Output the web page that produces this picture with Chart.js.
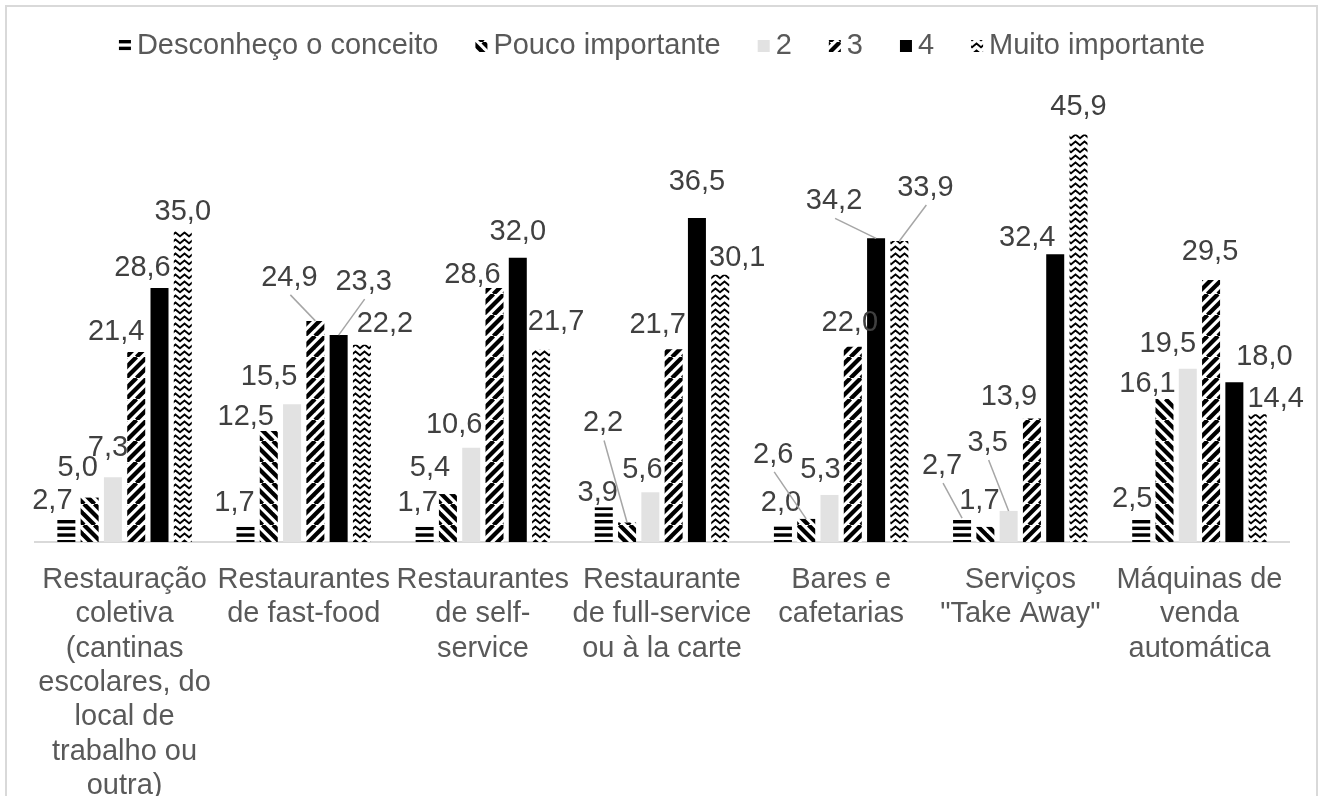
<!DOCTYPE html>
<html>
<head>
<meta charset="utf-8">
<script src="https://cdn.jsdelivr.net/npm/chart.js@4.4.0/dist/chart.umd.min.js"></script>
<style>
  html, body { margin: 0; padding: 0; background: #fff; }
  canvas { display: block; }
</style>
</head>
<body>
<canvas id="grafico" width="1323" height="796"></canvas>
<script>
// categorias (rótulos do eixo, já quebrados em linhas como no original)
var categorias = [
  ["Restauração", "coletiva", "(cantinas", "escolares, do", "local de", "trabalho ou", "outra)"],
  ["Restaurantes", "de fast-food"],
  ["Restaurantes", "de self-", "service"],
  ["Restaurante", "de full-service", "ou à la carte"],
  ["Bares e", "cafetarias"],
  ["Serviços", "\"Take Away\""],
  ["Máquinas de", "venda", "automática"]
];
var nomesSeries = ["Desconheço o conceito", "Pouco importante", "2", "3", "4", "Muito importante"];

var desconheco      = [2.7, 1.7, 1.7, 3.9, 2.0, 2.7, 2.5];
var poucoImportante = [5.0, 12.5, 5.4, 2.2, 2.6, 1.7, 16.1];
var nivel2          = [7.3, 15.5, 10.6, 5.6, 5.3, 3.5, 19.5];
var nivel3          = [21.4, 24.9, 28.6, 21.7, 22.0, 13.9, 29.5];
var nivel4          = [28.6, 23.3, 32.0, 36.5, 34.2, 32.4, 18.0];
var muitoImportante = [35.0, 22.2, 21.7, 30.1, 33.9, 45.9, 14.4];

var yMin = 0, yMax = 50;

// deslocamento dos rótulos de dados [dx, dy, linha guia] (por série, por categoria)
var ajusteRotulos = [
  [[-14,-17],[-11,-24],[-7,-24],[-6,-14],[-2,-21],[-20,-52,1],[-9,-21]],
  [[-12,-30],[-23,-14],[-18,-26],[-24,-99,1],[-33,-64,1],[-6,-26],[-17,-15]],
  [[-5,-29],[-23,-27],[-17,-23],[-8,-22],[-9,-25],[-21,-68,1],[-20,-25]],
  [[-20,-20],[-26,-43,1],[-22,-13],[-16,-24],[-3,-24],[-23,-22],[-1,-28]],
  [[-17,-20],[25,-53,1],[0,-26],[0,-36],[-42,-37,1],[-28,-16],[30,-25]],
  [[0,-19],[23,-21],[15,-27],[17,-17],[26,-53,1],[0,-27],[18,-15]]
];

var FONTE = "'Liberation Sans', Arial, sans-serif";

function padrao(tipo) {
  var c = document.createElement('canvas');
  var g = c.getContext('2d');
  var s;
  if (tipo === 'horizontal') {
    c.width = 8; c.height = 20;
    g.fillStyle = '#fff'; g.fillRect(0, 0, 8, 20);
    g.fillStyle = '#000';
    for (var k = 0; k < 3; k++) g.fillRect(0, k * 20 / 3, 8, 3.4);
  } else if (tipo === 'desce' || tipo === 'sobe') {
    s = 21;
    c.width = s; c.height = s;
    g.fillStyle = '#fff'; g.fillRect(0, 0, s, s);
    g.strokeStyle = '#000'; g.lineWidth = 4.2;
    for (var o = -2 * s; o <= 2 * s; o += s / 2) {
      g.beginPath();
      if (tipo === 'desce') { g.moveTo(o, 0); g.lineTo(o + s, s); }
      else { g.moveTo(o, s); g.lineTo(o + s, 0); }
      g.stroke();
    }
  } else if (tipo === 'onda') {
    c.width = 9; c.height = 7;
    g.fillStyle = '#fff'; g.fillRect(0, 0, 9, 7);
    g.strokeStyle = '#000'; g.lineWidth = 1.9;
    g.beginPath();
    g.moveTo(-4.5, 1.5); g.lineTo(0, 5.3); g.lineTo(4.5, 1.5); g.lineTo(9, 5.3); g.lineTo(13.5, 1.5);
    g.stroke();
  }
  return g.createPattern(c, 'repeat');
}

var ctx = document.getElementById('grafico').getContext('2d');
var cores = [padrao('horizontal'), padrao('desce'), '#e2e2e2', padrao('sobe'), '#000000', padrao('onda')];
var valores = [desconheco, poucoImportante, nivel2, nivel3, nivel4, muitoImportante];

var datasets = [];
for (var i = 0; i < nomesSeries.length; i++) {
  datasets.push({
    label: nomesSeries[i],
    data: valores[i],
    backgroundColor: cores[i],
    borderWidth: 0,
    categoryPercentage: 0.78,
    barPercentage: 0.773
  });
}

function fmt(v) { return v.toFixed(1).replace('.', ','); }

var moldura = {
  id: 'moldura',
  beforeDraw: function (chart) {
    var g = chart.ctx;
    g.save();
    g.strokeStyle = '#d9d9d9';
    g.lineWidth = 2;
    g.beginPath();
    g.moveTo(6, 800); g.lineTo(6, 6); g.lineTo(1317, 6); g.lineTo(1317, 800);
    g.stroke();
    g.restore();
  }
};

var rotulos = {
  id: 'rotulos',
  afterDatasetsDraw: function (chart) {
    var g = chart.ctx;
    g.save();
    g.font = '29px ' + FONTE;
    g.textAlign = 'center';
    g.textBaseline = 'middle';
    chart.data.datasets.forEach(function (ds, si) {
      var meta = chart.getDatasetMeta(si);
      meta.data.forEach(function (bar, ci) {
        var aj = ajusteRotulos[si][ci] || [0, -19];
        var lx = bar.x + aj[0], ly = bar.y + aj[1];
        if (aj[2]) {
          g.strokeStyle = '#a6a6a6';
          g.lineWidth = 1.5;
          g.beginPath();
          g.moveTo(lx + 1, ly + 17);
          g.lineTo(bar.x, bar.y);
          g.stroke();
        }
        g.fillStyle = '#404040';
        g.fillText(fmt(ds.data[ci]), lx, ly);
      });
    });
    g.restore();
  }
};

var legenda = {
  id: 'legenda',
  afterDraw: function (chart) {
    var g = chart.ctx;
    g.save();
    g.font = '29px ' + FONTE;
    g.textBaseline = 'middle';
    g.textAlign = 'left';
    var caixa = 12, folga = 6, entre = 37, yc = 46;
    var total = 0;
    var larg = nomesSeries.map(function (n) { return g.measureText(n).width; });
    larg.forEach(function (w) { total += caixa + folga + w; });
    total += entre * (nomesSeries.length - 1);
    var x = (chart.chartArea.left + chart.chartArea.right) / 2 - total / 2;
    for (var k = 0; k < nomesSeries.length; k++) {
      g.fillStyle = cores[k];
      g.fillRect(x, yc - caixa / 2, caixa, caixa);
      g.fillStyle = '#595959';
      g.fillText(nomesSeries[k], x + caixa + folga, yc);
      x += caixa + folga + larg[k] + entre;
    }
    g.restore();
  }
};

new Chart(ctx, {
  type: 'bar',
  data: { labels: categorias, datasets: datasets },
  options: {
    responsive: false,
    maintainAspectRatio: false,
    animation: false,
    devicePixelRatio: 1,
    layout: { padding: { left: 35, right: 34, top: 98, bottom: 0 } },
    plugins: {
      legend: { display: false },
      tooltip: { enabled: false }
    },
    scales: {
      x: {
        grid: { display: false, drawTicks: false },
        border: { display: true, color: '#d9d9d9', width: 2 },
        ticks: {
          color: '#595959',
          font: { family: FONTE, size: 29, lineHeight: 1.183 },
          padding: 21,
          maxRotation: 0,
          minRotation: 0,
          autoSkip: false
        },
        afterFit: function (scale) { scale.height = 254; }
      },
      y: {
        display: false,
        min: yMin,
        max: yMax
      }
    }
  },
  plugins: [moldura, rotulos, legenda]
});
</script>
</body>
</html>
